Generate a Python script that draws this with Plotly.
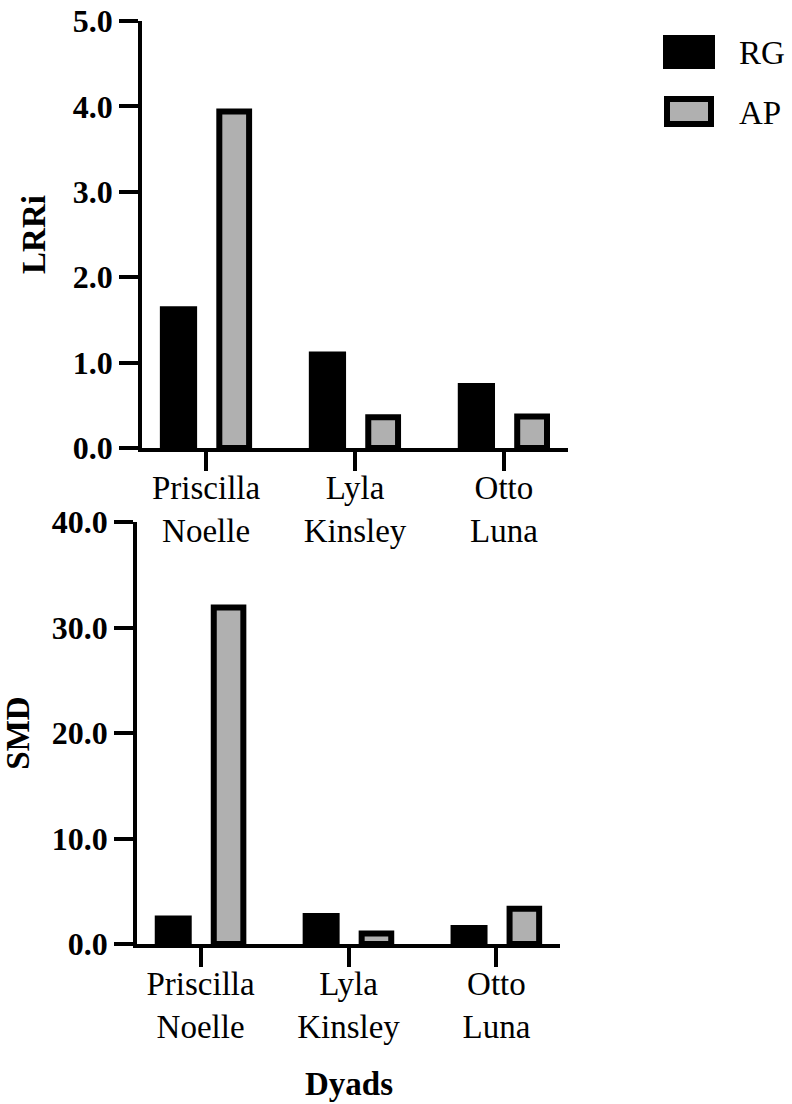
import plotly.graph_objects as go

# Dyads and their index values for the two conditions
dyads = ["Priscilla<br>Noelle", "Lyla<br>Kinsley", "Otto<br>Luna"]
lrri_rg = [1.66, 1.13, 0.76]
lrri_ap = [3.94, 0.36, 0.37]
smd_rg = [2.7, 2.95, 1.8]
smd_ap = [31.9, 1.0, 3.33]
series_names = ["RG", "AP"]
lrri_ticks = [0, 1, 2, 3, 4, 5]
smd_ticks = [0, 10, 20, 30, 40]

W, H = 792, 1104
GREY = "#b0b0b0"
SERIF = "Liberation Serif"

x_pos = list(range(len(dyads)))


def px_x(v):
    return v / W


def px_y(v):
    return 1 - v / H


fig = go.Figure()

for rg, ap, xa, ya in [(lrri_rg, lrri_ap, "x", "y"), (smd_rg, smd_ap, "x2", "y2")]:
    fig.add_trace(go.Bar(x=x_pos, y=rg, name=series_names[0], xaxis=xa, yaxis=ya,
                         width=0.25, offset=-0.31,
                         marker=dict(color="black", line=dict(width=0)), showlegend=False))
    fig.add_trace(go.Bar(x=x_pos, y=ap, name=series_names[1], xaxis=xa, yaxis=ya,
                         width=0.2, offset=0.089,
                         marker=dict(color=GREY, line=dict(color="black", width=6)), showlegend=False))

title_font = dict(family=SERIF, size=33, color="black", weight="bold")
axis_common = dict(showline=True, linecolor="black", linewidth=3.5,
                   ticks="outside", tickcolor="black", tickwidth=3.5,
                   showgrid=False, zeroline=False, automargin=False)
xaxis_common = dict(axis_common, ticklen=19, tickvals=x_pos, ticktext=dyads, range=[-0.43, 2.43],
                    ticklabelstandoff=-11,
                    tickfont=dict(family=SERIF, size=33, color="black"))
yaxis_common = dict(axis_common, ticklen=19, tickformat=".1f",
                    tickfont=dict(family=SERIF, size=32, color="black", weight="bold"))

fig.update_layout(
    width=W, height=H, margin=dict(l=0, r=0, t=0, b=0),
    paper_bgcolor="white", plot_bgcolor="white", barmode="overlay",
    xaxis=dict(xaxis_common, domain=[px_x(142), px_x(568)], anchor="y"),
    yaxis=dict(yaxis_common, domain=[px_y(448), px_y(21)], anchor="x", range=[0, 5],
               tickvals=lrri_ticks,
               title=dict(text="LRRi", font=title_font, standoff=18)),
    xaxis2=dict(xaxis_common, domain=[px_x(137), px_x(560)], anchor="y2"),
    yaxis2=dict(yaxis_common, domain=[px_y(944), px_y(522)], anchor="x2", range=[0, 40],
                tickvals=smd_ticks,
                title=dict(text="SMD", font=title_font, standoff=20)),
)

# Horizontal axis title
fig.add_annotation(text="Dyads", xref="paper", yref="paper",
                   x=px_x(349), y=px_y(1084),
                   xanchor="center", yanchor="middle",
                   showarrow=False, font=title_font)

# Legend: swatches as fixed-size annotation boxes, then the series labels
fig.add_annotation(text=" ", xref="paper", yref="paper",
                   x=px_x(689), y=px_y(52), xanchor="center", yanchor="middle",
                   width=52, height=34, borderpad=0, borderwidth=0,
                   bgcolor="black", showarrow=False)
fig.add_annotation(text=" ", xref="paper", yref="paper",
                   x=px_x(689), y=px_y(111.5), xanchor="center", yanchor="middle",
                   width=38, height=19, borderpad=0, borderwidth=6,
                   bgcolor=GREY, bordercolor="black", showarrow=False)
legend_font = dict(family=SERIF, size=33, color="black")
fig.add_annotation(text=series_names[0], xref="paper", yref="paper",
                   x=px_x(737), y=px_y(53), xanchor="left", yanchor="middle",
                   showarrow=False, font=legend_font)
fig.add_annotation(text=series_names[1], xref="paper", yref="paper",
                   x=px_x(737), y=px_y(113), xanchor="left", yanchor="middle",
                   showarrow=False, font=legend_font)

fig.write_html("out.html")
